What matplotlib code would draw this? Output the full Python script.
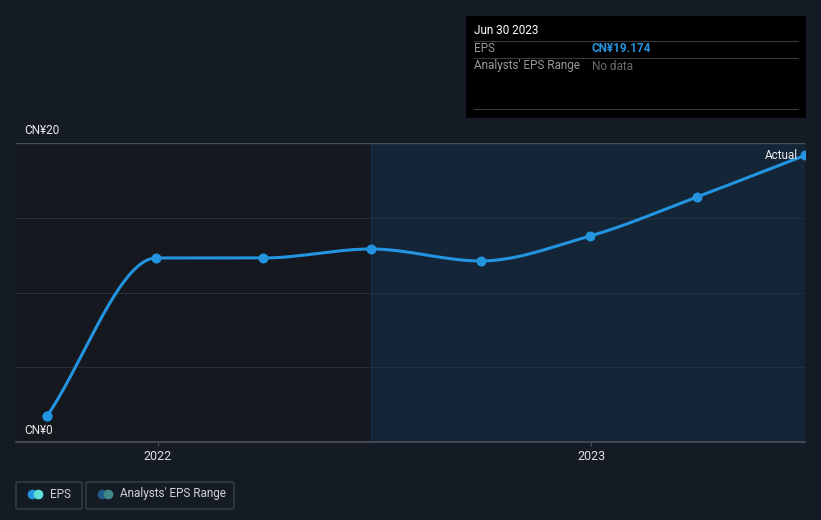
import numpy as np
import pandas as pd
import matplotlib
matplotlib.use("Agg")
from matplotlib import pyplot as plt
import matplotlib.dates as mdates
from matplotlib.patches import Rectangle, FancyBboxPatch

plt.rcParams['font.family'] = ['Roboto', 'DejaVu Sans']

dates = pd.to_datetime(["2021-09-30", "2021-12-31", "2022-03-31", "2022-06-30",
                        "2022-09-30", "2022-12-31", "2023-03-31", "2023-06-30"])
eps = [1.74, 12.31, 12.31, 12.91, 12.11, 13.78, 16.39, 19.174]
forecast_start = pd.Timestamp("2022-06-30")
ytick_labels = {0: "CN¥0", 20: "CN¥20"}
xtick_years = [2022, 2023]

BG = "#151b25"
PAST = "#15181e"
FUTURE = "#132536"
LINE = "#2394df"


def monotone(x, y, n=400):
    # monotone cubic curve through points (like d3 curveMonotoneX)
    x = np.asarray(x, float)
    y = np.asarray(y, float)
    h = np.diff(x)
    d = np.diff(y) / h
    m = np.zeros_like(y)
    m[0], m[-1] = d[0], d[-1]
    for i in range(1, len(y) - 1):
        if d[i - 1] * d[i] <= 0:
            m[i] = 0
        else:
            w1 = 2 * h[i] + h[i - 1]
            w2 = h[i] + 2 * h[i - 1]
            m[i] = (w1 + w2) / (w1 / d[i - 1] + w2 / d[i])
    xs, ys = [], []
    for i in range(len(h)):
        t = np.linspace(0, 1, n // len(h))
        h00 = 2 * t**3 - 3 * t**2 + 1
        h10 = t**3 - 2 * t**2 + t
        h01 = -2 * t**3 + 3 * t**2
        h11 = t**3 - t**2
        xs.append(x[i] + t * h[i])
        ys.append(h00 * y[i] + h10 * h[i] * m[i] + h01 * y[i + 1] + h11 * h[i] * m[i + 1])
    return np.concatenate(xs), np.concatenate(ys)


fig = plt.figure(figsize=(8.21, 5.2), dpi=100, facecolor=BG)
ax = fig.add_axes([16 / 821, 1 - 442 / 520, (805 - 16) / 821, (442 - 143) / 520])
ax.set_facecolor(PAST)

xnum = mdates.date2num(dates)
x0 = xnum[0] - (47 - 16) / 1.186
x1 = xnum[-1]
ax.set_xlim(x0, x1)
ax.set_ylim(0, 20)

fs = mdates.date2num(forecast_start)
ax.add_patch(Rectangle((fs, 0), x1 - fs, 20, facecolor=FUTURE, edgecolor="none", zorder=0))
ax.axvline(fs, color="#18314a", lw=0.8, zorder=1)

for v in [5, 10, 15]:
    ax.axhline(v, color="#272f3c", lw=0.8, zorder=1)
ax.axhline(20, color="#4a505a", lw=1.0, zorder=1)
ax.axhline(0, color="#4a505a", lw=1.2, zorder=3, clip_on=False)

cx, cy = monotone(xnum, eps)
ax.plot(cx, cy, color=LINE, lw=2.2, zorder=4, solid_capstyle="round")
ax.scatter(xnum, eps, s=38, color=LINE, zorder=5, clip_on=True)
ax.scatter(xnum[:1], eps[:1], s=38, color=LINE, zorder=5, clip_on=False)

for s in ax.spines.values():
    s.set_visible(False)
ax.set_yticks([])
ax.set_xticks([mdates.date2num(pd.Timestamp(f"{y}-01-01")) for y in xtick_years])
ax.set_xticklabels([str(y) for y in xtick_years], color="#e0e0e0", fontsize=9)
ax.tick_params(axis="x", length=3, color="#4a505a", pad=3)

for v, lab in ytick_labels.items():
    ax.text(24 / 821, (1 - (442 - 14.95 * v) / 520) + 12 / 520, lab, transform=fig.transFigure,
            color="#e8e8e8", fontsize=8.5, va="center", ha="left")

ax.text(xnum[-1] - 6, eps[-1] + 0.0, "Actual", color="#f0f0f0", fontsize=8.5,
        ha="right", va="center", zorder=6)

# tooltip box
fig.patches.append(Rectangle((466 / 821, 1 - 118 / 520), 340 / 821, 102 / 520,
                             transform=fig.transFigure, facecolor="black", edgecolor="none"))
fig.text(474 / 821, 1 - 31 / 520, "Jun 30 2023", color="white", fontsize=8.5, va="center")
for yy in [41, 58, 109]:
    fig.add_artist(plt.Line2D([474 / 821, 798 / 821], [1 - yy / 520] * 2, color="#3a3a3a", lw=0.8))
fig.text(474 / 821, 1 - 49 / 520, "EPS", color="#9a9a9a", fontsize=8.5, va="center")
fig.text(592 / 821, 1 - 49 / 520, "CN¥19.174", color=LINE, fontsize=8.5, va="center", weight="bold")
fig.text(474 / 821, 1 - 66 / 520, "Analysts' EPS Range", color="#9a9a9a", fontsize=8.5, va="center")
fig.text(592 / 821, 1 - 66 / 520, "No data", color="#6a6a6a", fontsize=8.5, va="center")

# legend
for (lx, lw, c1, c2, lab) in [(16, 66, "#2394df", "#5ee0d8", "EPS"),
                              (86, 148, "#245a8a", "#3f8a88", "Analysts' EPS Range")]:
    fig.patches.append(FancyBboxPatch((lx / 821, 1 - 509 / 520), lw / 821, 27 / 520,
                                      boxstyle="round,pad=0,rounding_size=0.003",
                                      transform=fig.transFigure, facecolor="none",
                                      edgecolor="#3a404a", lw=1))
    cyy = 1 - 494 / 520
    fig.add_artist(plt.Line2D([(lx + 16) / 821], [cyy], marker="o", ms=7, color=c1, mec="none"))
    fig.add_artist(plt.Line2D([(lx + 22) / 821], [cyy], marker="o", ms=7, color=c2, mec="none"))
    fig.text((lx + 34) / 821, cyy, lab, color="#d0d0d0", fontsize=8.5, va="center")

fig.savefig("out.png", dpi=100, facecolor=BG)
